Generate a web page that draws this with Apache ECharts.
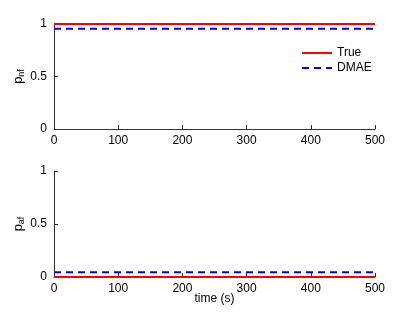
<!DOCTYPE html>
<html><head><meta charset="utf-8">
<script src="https://cdn.jsdelivr.net/npm/echarts@6/dist/echarts.min.js"></script>
<style>html,body{margin:0;padding:0;background:#fff}#c{width:415px;height:313px}</style>
</head><body><div id="c"></div>
<script>
var time = [0, 100, 200, 300, 400, 500];
var pnfTrue = [1, 1, 1, 1, 1, 1];
var pnfDMAE = [0.955, 0.955, 0.955, 0.955, 0.955, 0.955];
var pafTrue = [0, 0, 0, 0, 0, 0];
var pafDMAE = [0.045, 0.045, 0.045, 0.045, 0.045, 0.045];
var xTicks = [0, 100, 200, 300, 400, 500];
var yTicks = [0, 0.5, 1];

function pairs(xs, ys){ return xs.map(function(x,i){return [x, ys[i]];}); }
var font = 'Liberation Sans, Arial, sans-serif';
var axisCommon = {
  axisLine:{show:true, lineStyle:{color:'#333', width:1}},
  axisTick:{show:true, inside:true, length:4, lineStyle:{color:'#333'}},
  splitLine:{show:false},
  axisLabel:{color:'#000', fontSize:12, fontFamily:font}
};
function xAx(idx, name){
  return Object.assign({}, axisCommon, {
    type:'value', gridIndex:idx, min:0, max:500, interval:100,
    name:name, nameLocation:'middle', nameGap:16, nameMoveOverlap:false,
    nameTextStyle:{color:'#000', fontSize:12, fontFamily:font},
    axisLabel:Object.assign({}, axisCommon.axisLabel, {margin:6})
  });
}
function yAx(idx, sub){
  return Object.assign({}, axisCommon, {
    type:'value', gridIndex:idx, min:0, max:1, interval:0.5,
    name:'{a|p}{b|' + sub + '}', nameLocation:'middle', nameGap:28, nameRotate:90,
    nameMoveOverlap:false,
    nameTextStyle:{rich:{
      a:{fontSize:13, fontFamily:font, color:'#000'},
      b:{fontSize:9, fontFamily:font, color:'#000', padding:[7,0,0,0]}
    }},
    axisLabel:Object.assign({}, axisCommon.axisLabel, {margin:7})
  });
}
var chart = echarts.init(document.getElementById('c'), null, {renderer:'canvas'});
chart.setOption({
  animation:false,
  backgroundColor:'#fff',
  grid:[
    {left:54, right:40, top:24, height:105, outerBoundsMode:'none', containLabel:false},
    {left:54, right:40, top:171, height:106, outerBoundsMode:'none', containLabel:false}
  ],
  xAxis:[xAx(0, ''), xAx(1, 'time (s)')],
  yAxis:[yAx(0, 'nf'), yAx(1, 'af')],
  legend:{
    left:296, top:42, orient:'vertical', itemWidth:30, itemHeight:10, itemGap:3,
    itemStyle:{opacity:0},
    textStyle:{fontSize:12, fontFamily:font, color:'#000'},
    data:['True','DMAE']
  },
  series:[
    {name:'True', type:'line', xAxisIndex:0, yAxisIndex:0, data:pairs(time,pnfTrue), symbol:'none',
     lineStyle:{color:'#ff0000', width:2}, itemStyle:{color:'#ff0000'}},
    {name:'DMAE', type:'line', xAxisIndex:0, yAxisIndex:0, data:pairs(time,pnfDMAE), symbol:'none',
     lineStyle:{color:'#0000ff', width:2, type:[7,5]}, itemStyle:{color:'#0000ff'}},
    {name:'True', type:'line', xAxisIndex:1, yAxisIndex:1, data:pairs(time,pafTrue), symbol:'none',
     lineStyle:{color:'#ff0000', width:2}, itemStyle:{color:'#ff0000'}},
    {name:'DMAE', type:'line', xAxisIndex:1, yAxisIndex:1, data:pairs(time,pafDMAE), symbol:'none',
     lineStyle:{color:'#0000ff', width:2, type:[7,5]}, itemStyle:{color:'#0000ff'}}
  ]
});
</script></body></html>
